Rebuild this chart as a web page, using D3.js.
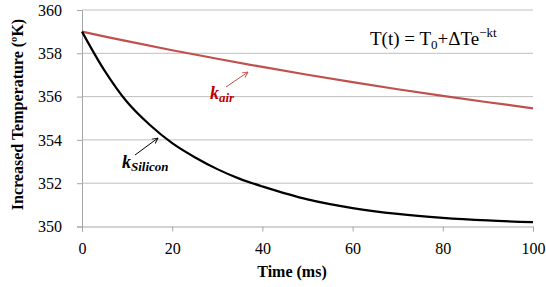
<!DOCTYPE html>
<html>
<head>
<script src="https://d3js.org/d3.v7.min.js"></script>
<style>
body { margin: 0; background: #fff; }
</style>
</head>
<body>
<svg id="chart" width="546" height="287"></svg>
<script>
// data
var timeAir = [0, 10, 20, 30, 40, 50, 60, 70, 80, 90, 100];
var tempAir = [359, 358.56, 358.14, 357.75, 357.37, 357.01, 356.67, 356.34, 356.03, 355.74, 355.46];
var timeSi = [0, 5, 10, 15, 20, 25, 30, 35, 40, 50, 60, 70, 80, 90, 100];
var tempSi = [359, 357.2, 355.75, 354.7, 353.85, 353.2, 352.65, 352.2, 351.85, 351.25, 350.85, 350.58, 350.4, 350.28, 350.2];
var xTicks = [0, 20, 40, 60, 80, 100];
var yTicks = [350, 352, 354, 356, 358, 360];

var svg = d3.select("#chart");
var x = d3.scaleLinear().domain([0, 100]).range([82, 533]);
var y = d3.scaleLinear().domain([350, 360]).range([226.5, 10]);

// grid
svg.append("g").selectAll("line").data(yTicks.slice(1)).enter().append("line")
  .attr("x1", x(0)).attr("x2", x(100))
  .attr("y1", d => y(d)).attr("y2", d => y(d))
  .attr("stroke", "#bfbfbf").attr("stroke-width", 1);

// axes
var xAxis = svg.append("g").attr("transform", "translate(0," + y(350) + ")")
  .call(d3.axisBottom(x).tickValues(xTicks).tickSize(5).tickPadding(11));
var yAxis = svg.append("g").attr("transform", "translate(" + x(0) + ",0)")
  .call(d3.axisLeft(y).tickValues(yTicks).tickSize(5).tickPadding(15));
[xAxis, yAxis].forEach(function(a) {
  a.select(".domain").attr("stroke", "#a6a6a6");
  a.selectAll(".tick line").attr("stroke", "#a6a6a6");
  a.selectAll(".tick text").attr("fill", "#000").style("font-size", "16px");
});

// lines
var line = d3.line().x(d => x(d[0])).y(d => y(d[1])).curve(d3.curveCatmullRom.alpha(0.5));
svg.append("path").datum(timeAir.map((t, i) => [t, tempAir[i]]))
  .attr("d", line).attr("fill", "none").attr("stroke", "#c0504d").attr("stroke-width", 2.2);
svg.append("path").datum(timeSi.map((t, i) => [t, tempSi[i]]))
  .attr("d", line).attr("fill", "none").attr("stroke", "#000").attr("stroke-width", 2.2);

// axis titles
svg.append("text").attr("x", 292).attr("y", 277).attr("text-anchor", "middle")
  .style("font-size", "16px").attr("font-weight", "bold").text("Time (ms)");
svg.append("text").attr("transform", "translate(23,114.5) rotate(-90)")
  .attr("text-anchor", "middle").style("font-size", "16px").attr("font-weight", "bold")
  .text("Increased Temperature (ºK)");

// formula
var f = svg.append("text").attr("x", 370).attr("y", 45).style("font-size", "19px");
f.append("tspan").text("T(t) = T");
f.append("tspan").attr("dy", 4).style("font-size", "13px").text("0");
f.append("tspan").attr("dy", -4).text("+ΔTe");
f.append("tspan").attr("dy", -8).style("font-size", "13px").text("−kt");

// annotations
svg.append("defs").selectAll("marker").data([["arrRed", "#c0504d"], ["arrBlk", "#000"]]).enter()
  .append("marker").attr("id", d => d[0]).attr("viewBox", "0 0 10 10")
  .attr("refX", 9).attr("refY", 5).attr("markerWidth", 7).attr("markerHeight", 7).attr("orient", "auto")
  .append("path").attr("d", "M1,1 L9,5 L1,9").attr("fill", "none").attr("stroke", d => d[1]).attr("stroke-width", 1.3);

svg.append("line").attr("x1", 226).attr("y1", 87).attr("x2", 248).attr("y2", 72)
  .attr("stroke", "#c0504d").attr("stroke-width", 1).attr("marker-end", "url(#arrRed)");
svg.append("line").attr("x1", 135).attr("y1", 155).attr("x2", 158).attr("y2", 138)
  .attr("stroke", "#000").attr("stroke-width", 1).attr("marker-end", "url(#arrBlk)");

var ka = svg.append("text").attr("x", 210).attr("y", 99).attr("fill", "#c00000")
  .attr("font-weight", "bold").attr("font-style", "italic").style("font-size", "18px");
ka.append("tspan").text("k");
ka.append("tspan").attr("dy", 3).style("font-size", "13px").text("air");
var ks = svg.append("text").attr("x", 122).attr("y", 168).attr("fill", "#000")
  .attr("font-weight", "bold").attr("font-style", "italic").style("font-size", "18px");
ks.append("tspan").text("k");
ks.append("tspan").attr("dy", 3).style("font-size", "13px").text("Silicon");

// serif everywhere
svg.selectAll("text").style("font-family", "'Liberation Serif'");
</script>
</body>
</html>
